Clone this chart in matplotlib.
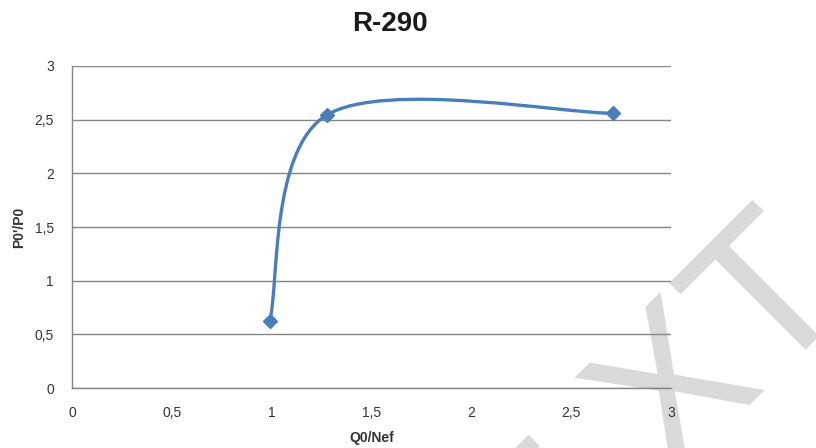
import numpy as np
import matplotlib.pyplot as plt
from matplotlib.path import Path
from matplotlib.patches import PathPatch

plt.rcParams['font.family'] = ['Liberation Sans', 'DejaVu Sans']

# data
q0_nef = [0.99, 1.276, 2.711]
p0_ratio = [0.624, 2.543, 2.559]
x_ticks = [0, 0.5, 1, 1.5, 2, 2.5, 3]
y_ticks = [0, 0.5, 1, 1.5, 2, 2.5, 3]

line_color = '#4a7ebb'
grid_color = '#868686'
text_color = '#333333'
W, H = 816, 448


def smooth_path(xs, ys):
  # Excel-like smoothed line: cardinal spline as cubic bezier segments
  pts = np.column_stack([xs, ys])
  n = len(pts)
  verts = [pts[0]]
  codes = [Path.MOVETO]
  for i in range(n - 1):
    p0 = pts[max(i - 1, 0)]
    p1 = pts[i]
    p2 = pts[i + 1]
    p3 = pts[min(i + 2, n - 1)]
    c1 = p1 + (p2 - p0) / 6
    c2 = p2 - (p3 - p1) / 6
    verts += [c1, c2, p2]
    codes += [Path.CURVE4] * 3
  return Path(verts, codes)


fig = plt.figure(figsize=(W / 100, H / 100), dpi=100)
ax = fig.add_axes([0.0882, 0.1339, 0.7341, 0.7188])
ax.patch.set_alpha(0)

# watermark behind the chart (pixel anchors, origin top-left)
wm = dict(fontsize=150, color='#d9d9d9', rotation=45, rotation_mode='anchor',
          va='baseline', zorder=-5)
fig.text(668 / W, 1 - 482 / H, 'XT', ha='left', **wm)
fig.text(638 / W, 1 - 522 / H, 'TE', ha='right', **wm)

ax.set_xlim(0, 3)
ax.set_ylim(0, 3)
ax.set_xticks(x_ticks)
ax.set_yticks(y_ticks)
fmt = lambda v: ('%g' % v).replace('.', ',')
ax.set_xticklabels([fmt(v) for v in x_ticks])
ax.set_yticklabels([fmt(v) for v in y_ticks])
ax.tick_params(length=0, labelsize=10, colors=text_color)
ax.tick_params(axis='x', pad=13)
ax.tick_params(axis='y', pad=13)

ax.grid(axis='y', color=grid_color, lw=1)
ax.set_axisbelow(True)
for s in ['top', 'right']:
  ax.spines[s].set_visible(False)
for s in ['left', 'bottom']:
  ax.spines[s].set_color(grid_color)
  ax.spines[s].set_linewidth(1)

ax.add_patch(PathPatch(smooth_path(q0_nef, p0_ratio), fill=False,
                       edgecolor=line_color, lw=2.4, capstyle='round', zorder=3))
ax.plot(q0_nef, p0_ratio, ls='none', marker='D', ms=7, color=line_color, zorder=4)

fig.text(0.478, 0.947, 'R-290', fontsize=20, fontweight='bold', ha='center',
         va='center', color='#1a1a1a')
ax.set_xlabel('Q0/Nef', fontsize=10, fontweight='bold', color=text_color, labelpad=8)
ax.set_ylabel("P0'/P0", fontsize=10, fontweight='bold', color=text_color, labelpad=6)

fig.savefig('out.png', dpi=100)
